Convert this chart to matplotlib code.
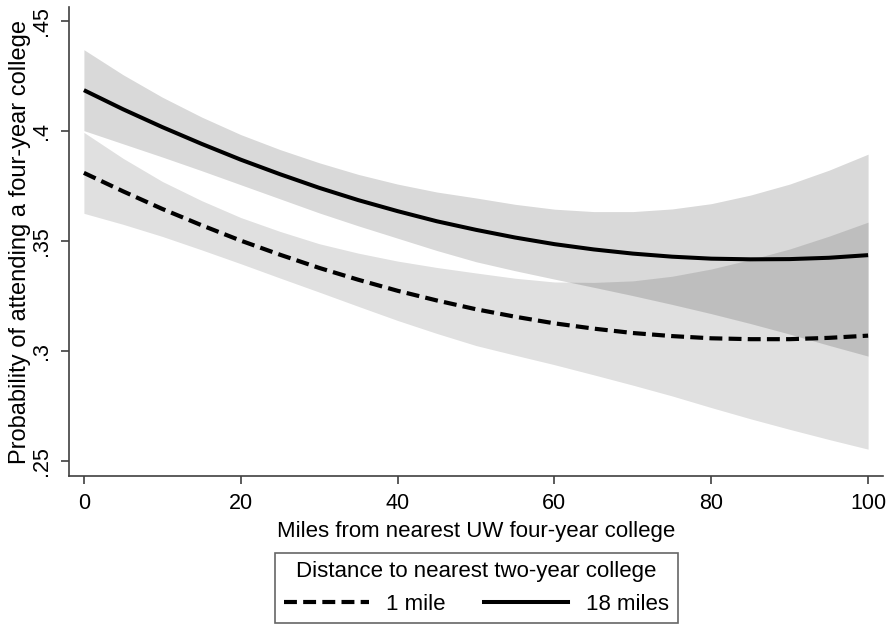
import matplotlib
matplotlib.use("Agg")
import matplotlib.pyplot as plt
from matplotlib.lines import Line2D
from matplotlib.ticker import FixedLocator

plt.rcParams['font.family'] = ['Liberation Sans', 'DejaVu Sans']

miles = [0, 5, 10, 15, 20, 25, 30, 35, 40, 45, 50, 55, 60, 65, 70, 75, 80, 85, 90, 95, 100]

# 18 miles to nearest two-year college (solid)
p18 = [.4186, .4099, .4018, .3942, .3870, .3804, .3742, .3686, .3636, .3590, .3551,
       .3516, .3486, .3462, .3443, .3429, .3420, .3417, .3418, .3424, .3436]
p18_hi = [.4370, .4256, .4154, .4064, .3984, .3916, .3856, .3803, .3759, .3723, .3696,
          .3667, .3645, .3634, .3634, .3646, .3670, .3709, .3759, .3822, .3895]
p18_lo = [.4002, .3942, .3882, .3820, .3756, .3692, .3628, .3569, .3513, .3457, .3406,
          .3365, .3327, .3290, .3252, .3212, .3170, .3125, .3077, .3026, .2977]

# 1 mile to nearest two-year college (dashed)
p1 = [.3810, .3726, .3646, .3572, .3502, .3438, .3378, .3324, .3274, .3230, .3190,
      .3156, .3126, .3102, .3082, .3068, .3058, .3054, .3054, .3060, .3070]
p1_hi = [.3994, .3876, .3771, .3684, .3607, .3544, .3488, .3445, .3409, .3380, .3355,
         .3331, .3314, .3312, .3319, .3340, .3373, .3416, .3464, .3522, .3586]
p1_lo = [.3626, .3576, .3521, .3460, .3397, .3332, .3268, .3203, .3139, .3080, .3025,
         .2981, .2938, .2892, .2845, .2796, .2743, .2692, .2644, .2598, .2554]

xticks = [0, 20, 40, 60, 80, 100]
yticks = [.25, .3, .35, .4, .45]
ytick_labels = ['.25', '.3', '.35', '.4', '.45']

fig = plt.figure(figsize=(8.92, 6.26), dpi=100)
ax = fig.add_axes([69/892, 1 - 476/626, (883 - 69)/892, (476 - 7)/626])

ax.fill_between(miles, p18_lo, p18_hi, color='black', alpha=0.15, linewidth=0)
ax.fill_between(miles, p1_lo, p1_hi, color='black', alpha=0.12, linewidth=0)
ax.plot(miles, p1, color='black', linewidth=3.0, linestyle=(0, (3.1, 1.5)),
        dash_capstyle='butt', solid_capstyle='butt')
ax.plot(miles, p18, color='black', linewidth=2.9, solid_capstyle='butt')

ax.set_xlim(-1.9, 101.9)
ax.set_ylim(0.2432, 0.4564)
ax.xaxis.set_major_locator(FixedLocator(xticks))
ax.set_xticklabels([str(v) for v in xticks])
ax.yaxis.set_major_locator(FixedLocator(yticks))
ax.set_yticklabels(ytick_labels, rotation=90, va='center')

for s in ['top', 'right']:
    ax.spines[s].set_visible(False)
for s in ['left', 'bottom']:
    ax.spines[s].set_color('#404040')
    ax.spines[s].set_linewidth(1.2)
ax.tick_params(axis='both', direction='out', length=6, width=1.2, color='#404040',
               labelsize=15.5, pad=6)

ax.set_xlabel('Miles from nearest UW four-year college', fontsize=16, labelpad=5)
ax.set_ylabel('Probability of attending a four-year college', fontsize=17, labelpad=0)

handles = [Line2D([], [], color='black', linewidth=3.0, linestyle=(0, (3.1, 1.5)),
                  dash_capstyle='butt'),
           Line2D([], [], color='black', linewidth=2.9)]
leg = fig.legend(handles, ['1 mile', '18 miles'], ncol=2,
                 title='Distance to nearest two-year college',
                 loc='center', bbox_to_anchor=(476.5/892, 1 - 588/626),
                 fontsize=16, title_fontsize=16, frameon=True, fancybox=False,
                 edgecolor='#404040', handlelength=3.8, columnspacing=1.7,
                 handletextpad=0.8, borderpad=0.4, labelspacing=0.5)
leg.get_frame().set_linewidth(1.2)

fig.savefig('out.png', dpi=100)
